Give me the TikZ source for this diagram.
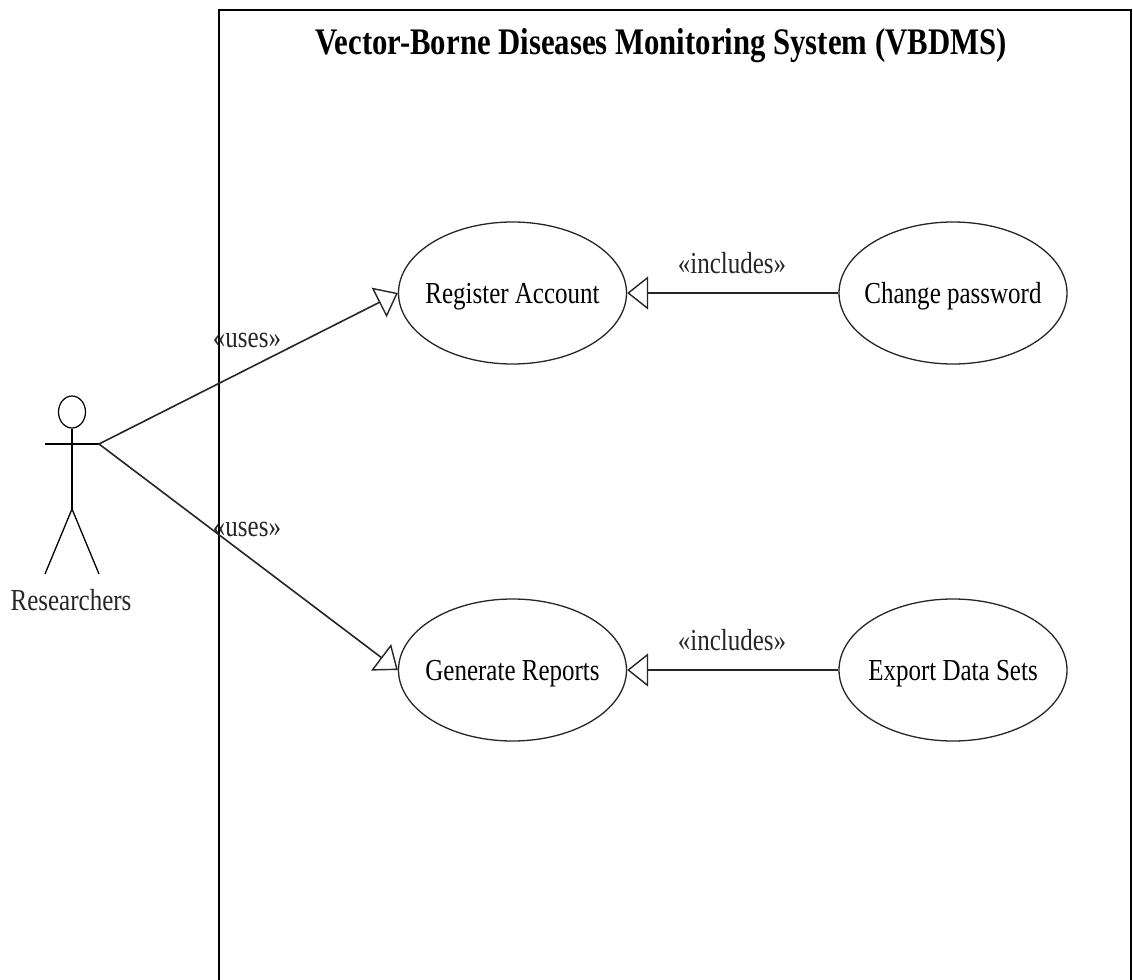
\documentclass[tikz,border=0pt]{standalone}
\usepackage{fontspec}
\setmainfont[FakeStretch=0.82]{Liberation Serif}
\usetikzlibrary{shapes.geometric,arrows.meta}
\tikzset{
  usecase/.style={draw=black!85,ellipse,minimum width=228pt,minimum height=142pt,inner sep=-30pt,line width=1.3pt,text height=25pt,text depth=4.5pt,font=\fontsize{30.5}{34}\selectfont},
  lbl/.style={inner sep=0pt,font=\fontsize{30.5}{34}\selectfont,text=black!85},
  conn/.style={line width=1.6pt,draw=black!85,-{Triangle[open,length=21pt,width=33pt,line width=1.4pt]}},
  limb/.style={line width=1.3pt,draw=black},
  frameline/.style={line width=1.6pt,draw=black}
}
\begin{document}
\begin{tikzpicture}[x=1pt,y=-1pt]
\useasboundingbox (0,0) rectangle (1133,980);
\fill[white] (0,0) rectangle (1133,980);
\draw[frameline] (219,980) -- (219,10) -- (1131,10) -- (1131,980);
\node[lbl,font=\fontsize{37.5}{40}\selectfont\bfseries,text=black] (title) at (661,46) {Vector-Borne Diseases Monitoring System (VBDMS)};
\node[usecase] (reg) at (512.5,293) {Register Account};
\node[usecase] (chg) at (953,293) {Change password};
\node[usecase] (gen) at (512.5,670) {Generate Reports};
\node[usecase] (exp) at (953,670) {Export Data Sets};
\node[draw=black,ellipse,minimum width=27pt,minimum height=32pt,inner sep=0pt,line width=1.2pt] (head) at (72,412) {};
\coordinate (handL) at (45,444);
\coordinate (handR) at (99,444);
\coordinate (hip) at (72,509);
\coordinate (footL) at (45,574);
\coordinate (footR) at (99,574);
\draw[limb] (head.south) -- (hip);
\draw[limb] (handL) -- (handR);
\draw[limb] (footL) -- (hip) -- (footR);
\node[lbl] (actor) at (71,600) {Researchers};
\draw[conn] (handR) -- (reg.west);
\draw[conn] (handR) -- (gen.west);
\draw[conn] (chg.west) -- (reg.east);
\draw[conn] (exp.west) -- (gen.east);
\node[lbl] (u1) at (247,340) {«uses»};
\node[lbl] (u2) at (247,529) {«uses»};
\node[lbl] (i1) at (732,263) {«includes»};
\node[lbl] (i2) at (732,640) {«includes»};
\end{tikzpicture}
\end{document}
